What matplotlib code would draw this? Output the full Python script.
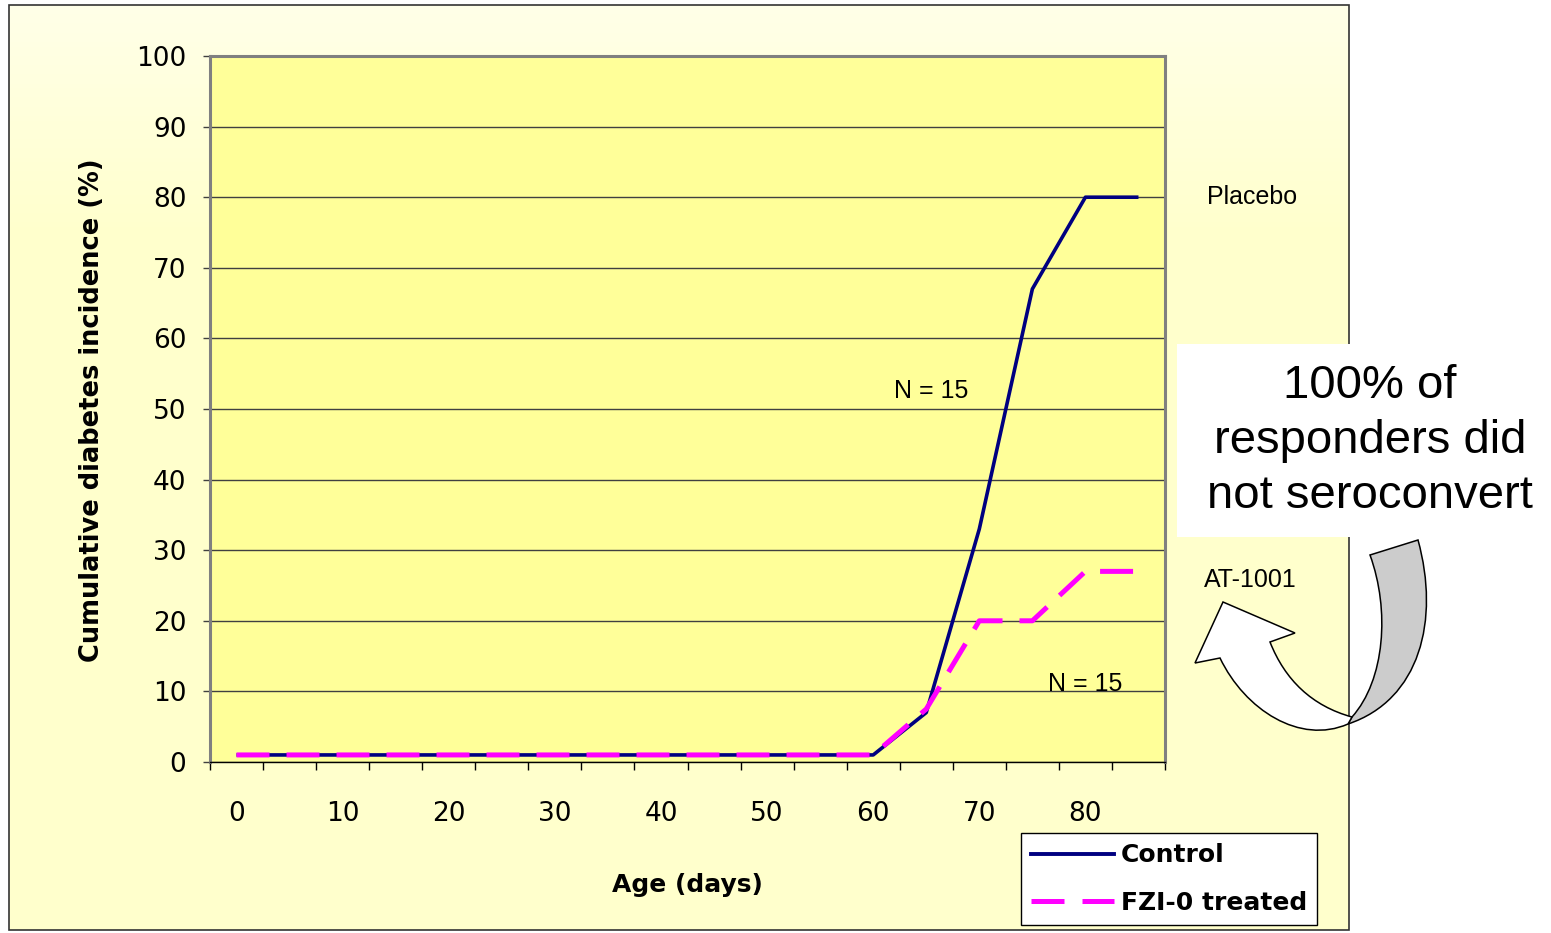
import numpy as np
import matplotlib
matplotlib.use("Agg")
import matplotlib.pyplot as plt
from matplotlib.path import Path
from matplotlib.patches import PathPatch, Rectangle
from matplotlib.lines import Line2D

# ---------------- data ----------------
ages = [0, 5, 10, 15, 20, 25, 30, 35, 40, 45, 50, 55, 60, 65, 70, 75, 80, 85]
control = [1, 1, 1, 1, 1, 1, 1, 1, 1, 1, 1, 1, 1, 7, 33, 67, 80, 80]
fzi_treated = [1, 1, 1, 1, 1, 1, 1, 1, 1, 1, 1, 1, 1, 7.5, 20, 20, 27, 27]
x_tick_labels = ["0", "10", "20", "30", "40", "50", "60", "70", "80"]
y_ticks = [0, 10, 20, 30, 40, 50, 60, 70, 80, 90, 100]

W, H = 1551, 933
fig = plt.figure(figsize=(W / 100, H / 100), dpi=100)
fig.patch.set_facecolor("white")

# background overlay in pixel coordinates
bg = fig.add_axes([0, 0, 1, 1], zorder=0)
bg.set_xlim(0, W)
bg.set_ylim(H, 0)
bg.axis("off")
grad = np.linspace(0, 1, 200)[:, None]
c_top = np.array([1.0, 1.0, 0.91])
c_bot = np.array([1.0, 1.0, 0.80])
t = np.clip(grad / 0.25, 0, 1)
img = c_top * (1 - t)[..., None] + c_bot * t[..., None]
img = np.repeat(img, 2, axis=1)
bg.imshow(img, extent=(9, 1349, 930, 5), aspect="auto", zorder=0)
bg.add_patch(Rectangle((9, 5), 1340, 925, fill=False, edgecolor="#333333", lw=1.2, zorder=1))

# main axes
L, R, T, B = 210, 1165, 56, 762
ax = fig.add_axes([L / W, (H - B) / H, (R - L) / W, (B - T) / H], zorder=2)
ax.set_facecolor("#FFFF99")
idx = np.arange(len(ages))
ax.plot(idx, control, color="#000080", lw=2.6, zorder=3, solid_capstyle="butt")
ax.plot(idx, fzi_treated, color="#FF00FF", lw=3.6, zorder=4,
        dashes=(6.6, 3.4), dash_capstyle="butt")

ax.set_xlim(-0.5, len(ages) - 0.5)
ax.set_ylim(0, 100)
ax.set_yticks(y_ticks)
ax.set_xticks(idx[::2])
ax.set_xticklabels(x_tick_labels)
ax.set_xticks(np.arange(-0.5, len(ages), 1.0), minor=True)
ax.tick_params(axis="x", which="major", length=0, pad=28, labelsize=19)
ax.tick_params(axis="x", which="minor", length=6, width=1, color="black", direction="out")
ax.tick_params(axis="y", which="major", length=5, width=1, color="#404040",
               direction="out", pad=12, labelsize=19)
ax.grid(axis="y", color="#404040", lw=1)
ax.set_axisbelow(True)
for s in ["left", "top", "right"]:
    ax.spines[s].set_color("#808080")
    ax.spines[s].set_linewidth(2.2)
ax.spines["bottom"].set_color("black")
ax.spines["bottom"].set_linewidth(1)

# annotations
tf = dict(family="Liberation Sans", fontsize=18, color="black")
ax.text(13.1, 52.5, "N = 15", ha="center", va="center", **tf)
ax.text(16.0, 11, "N = 15", ha="center", va="center", **tf)
ax.text(19.15, 80, "Placebo", ha="center", va="center", clip_on=False, **tf)
ax.text(19.1, 25.8, "AT-1001", ha="center", va="center", clip_on=False, **tf)

# axis labels
fig.text(687 / W, 1 - 885 / H, "Age (days)", ha="center", va="center",
         fontsize=18, fontweight="bold")
fig.text(92 / W, 1 - 410 / H, "Cumulative diabetes incidence (%)", ha="center",
         va="center", rotation=90, fontsize=18.5, fontweight="bold")

# legend
h1 = Line2D([], [], color="#000080", lw=2.8)
h2 = Line2D([], [], color="#FF00FF", lw=3.6, dashes=(6.6, 3.6), dash_capstyle="butt")
leg = fig.legend([h1, h2], ["Control", "FZI-0 treated"],
                 loc="lower left", bbox_to_anchor=(1021 / W, 1 - 925 / H),
                 frameon=True, fancybox=False, edgecolor="black", framealpha=1,
                 prop=dict(size=18, weight="bold"), handlelength=3.3,
                 handletextpad=0.3, labelspacing=0.95, borderpad=0.4,
                 borderaxespad=0)
leg.get_frame().set_linewidth(1)
leg.set_zorder(5)

# overlay: text box and curved arrow
ov = fig.add_axes([0, 0, 1, 1], zorder=6)
ov.set_xlim(0, W)
ov.set_ylim(H, 0)
ov.axis("off")
ov.patch.set_alpha(0)
ov.add_patch(Rectangle((1177, 344), 368, 193, facecolor="white", edgecolor="none"))
ov.text(1370, 441, "100% of\nresponders did\nnot seroconvert", ha="center",
        va="center", family="Liberation Sans", fontsize=34, linespacing=1.32)

gray = Path([(1370, 555), (1390, 610), (1385, 680), (1352, 717),
             (1348, 724),
             (1420, 700), (1440, 620), (1418, 540),
             (1370, 555)],
            [Path.MOVETO, Path.CURVE4, Path.CURVE4, Path.CURVE4,
             Path.LINETO,
             Path.CURVE4, Path.CURVE4, Path.CURVE4,
             Path.CLOSEPOLY])
ov.add_patch(PathPatch(gray, facecolor="#CCCCCC", edgecolor="black", lw=1.1))
white = Path([(1352, 717), (1312, 706), (1285, 680), (1270, 642),
              (1295, 633), (1223, 602), (1195, 663), (1220, 658),
              (1245, 710), (1300, 745), (1348, 724),
              (1352, 717)],
             [Path.MOVETO, Path.CURVE4, Path.CURVE4, Path.CURVE4,
              Path.LINETO, Path.LINETO, Path.LINETO, Path.LINETO,
              Path.CURVE4, Path.CURVE4, Path.CURVE4,
              Path.CLOSEPOLY])
ov.add_patch(PathPatch(white, facecolor="white", edgecolor="black", lw=1.1))

fig.savefig("out.png", dpi=100)
